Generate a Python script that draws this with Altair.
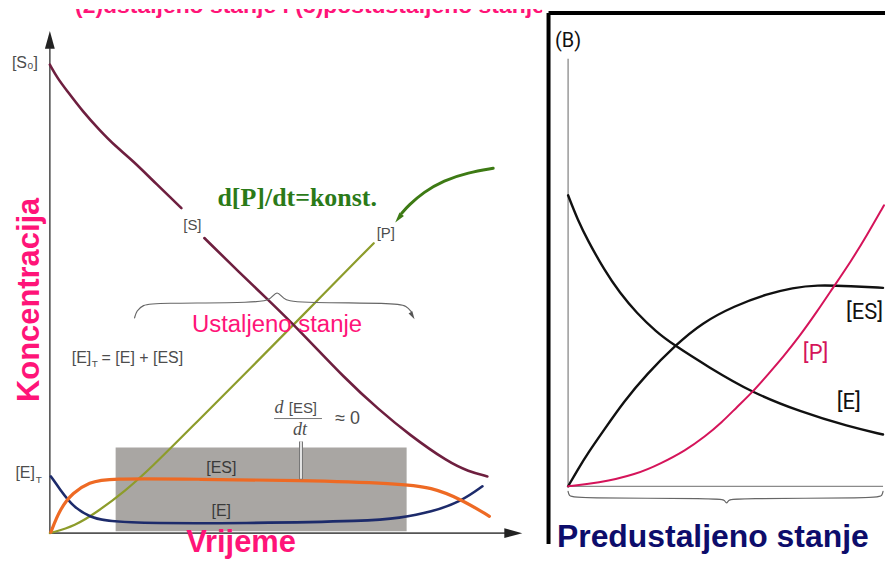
import altair as alt
import pandas as pd

# ---------------- Left panel: steady-state time course ----------------
# time (0..100 = end of curves), concentration (0..100 = [S0])
S_t = [0.0, 1.82, 3.86, 7.5, 11.36, 15.0, 18.86, 24.32, 30.0,
       35.23, 43.18, 50.0, 56.82, 67.5, 75.0, 81.82, 90.91, 95.45, 99.77]
S_c = [100.0, 97.0, 94.5, 90.0, 86.0, 82.55, 79.6, 74.5, 69.4,
       63.0, 55.7, 49.6, 43.4, 32.8, 26.4, 21.1, 15.1, 13.2, 12.1]
S_seg = [0] * 9 + [1] * 10

P_t = [0.0, 5.68, 11.36, 17.05, 22.73, 34.09, 45.45, 56.82, 73.86]
P_c = [0.0, 1.49, 4.89, 8.94, 13.6, 24.3, 34.9, 45.7, 61.9]

ES_t = [0.23, 2.27, 5.23, 9.09, 12.95, 34.09, 56.82, 79.55, 87.05, 93.86, 100.23]
ES_c = [0.21, 5.1, 8.7, 10.85, 11.7, 11.5, 11.3, 10.6, 9.8, 7.2, 3.6]

E_t = [0.23, 2.27, 5.23, 9.09, 14.32, 45.45, 72.73, 79.55, 87.05, 93.86, 98.64]
E_c = [12.1, 9.4, 5.7, 3.4, 2.1, 2.1, 2.6, 3.2, 4.5, 6.8, 10.0]

# steady-state window (grey box)
BOX_T = [15.0, 81.36]
BOX_C = [0.43, 18.3]

# brace over "Ustaljeno stanje"
BR_t = [19.32, 19.77, 21.14, 23.86, 48.18, 50.45, 51.82, 53.18, 55.45, 79.09, 81.36, 82.5]
BR_c = [45.96, 47.45, 48.72, 49.15, 49.15, 50.0, 51.9, 50.0, 49.15, 49.15, 48.5, 47.2]

# green curved arrow pointing at [P]
GA_t = [101.1, 95.45, 89.77, 85.23, 81.82, 80.23]
GA_c = [77.9, 77.0, 75.3, 72.8, 70.0, 68.3]

# ---------------- Right panel: pre-steady state ----------------
RE_t = [0.0, 3.11, 6.21, 11.49, 16.46, 21.74, 27.95, 33.54, 44.41, 58.39, 73.6, 89.13, 100.0]
RE_c = [100.0, 91.4, 84.6, 74.3, 66.4, 59.6, 53.1, 48.6, 41.1, 32.2, 25.7, 20.5, 17.8]

RES_t = [0.0, 3.11, 6.21, 11.49, 17.7, 24.84, 34.16, 42.55, 52.8, 63.04, 71.43, 78.57, 90.06, 100.0]
RES_c = [0.0, 5.82, 11.3, 19.5, 29.1, 38.4, 48.6, 56.2, 62.0, 66.1, 68.2, 69.2, 68.8, 68.2]

RP_t = [0.0, 9.32, 21.74, 29.5, 37.27, 43.48, 48.76, 53.73, 58.39, 63.66, 68.32,
        73.6, 79.19, 83.85, 90.06, 94.72, 100.31]
RP_c = [0.0, 1.03, 4.11, 7.88, 12.33, 17.12, 21.92, 27.4, 32.19, 38.7, 44.52,
        51.71, 60.27, 67.81, 77.74, 85.96, 96.58]

RB_t = [0.0, 0.3, 1.55, 48.8, 49.7, 50.3, 50.9, 51.9, 98.45, 99.7, 100.0]
RB_c = [-1.71, -3.2, -4.11, -4.11, -4.79, -6.16, -4.79, -4.11, -4.11, -3.2, -1.71]

# ---------------- colours / fonts ----------------
PINK = "#ff1478"
GREEN = "#2b7a18"
LABEL = "#4d4d4d"
SANS = "Liberation Sans, Arial, sans-serif"
SERIF = "Liberation Serif, Times New Roman, serif"
NARROW = "Liberation Sans Narrow, Roboto, sans-serif"
ARROW = "M0,-1L0.55,1L-0.55,1Z"

W_L, W_R, H = 536, 344, 554
LX = alt.Scale(domain=[-9.545, 112.27], nice=False, zero=False)
LY = alt.Scale(domain=[-5.957, 111.91], nice=False, zero=False)
RX = alt.Scale(domain=[-8.228, 100.63], nice=False, zero=False)
RY = alt.Scale(domain=[-25.68, 164.04], nice=False, zero=False)


def X(sc, f="t"):
    return alt.X(f"{f}:Q", scale=sc, axis=None)


def Y(sc, f="c"):
    return alt.Y(f"{f}:Q", scale=sc, axis=None)


def curve(t, c, color, width, sx, sy, seg=None, interp="basis"):
    df = pd.DataFrame({"t": t, "c": c, "seg": seg if seg else [0] * len(t)})
    return alt.Chart(df).mark_line(
        color=color, strokeWidth=width, interpolate=interp, strokeCap="round"
    ).encode(x=X(sx), y=Y(sy), detail="seg:N")


def label(t, c, text, sx, sy, **mk):
    df = pd.DataFrame({"t": [t], "c": [c], "label": [text]})
    return alt.Chart(df).mark_text(**mk).encode(x=X(sx), y=Y(sy), text="label:N")


def seg_rule(t1, c1, t2, c2, sx, sy, **mk):
    df = pd.DataFrame({"t": [t1], "c": [c1], "t2": [t2], "c2": [c2]})
    return alt.Chart(df).mark_rule(**mk).encode(
        x=X(sx), y=Y(sy), x2="t2:Q", y2="c2:Q"
    )


def head(t, c, angle, size, color, sx, sy):
    df = pd.DataFrame({"t": [t], "c": [c]})
    return alt.Chart(df).mark_point(
        shape=ARROW, filled=True, size=size, angle=angle, color=color,
        opacity=1, strokeWidth=0
    ).encode(x=X(sx), y=Y(sy))


# ---------------- left panel layers ----------------
box = alt.Chart(pd.DataFrame({"t": [BOX_T[0]], "t2": [BOX_T[1]],
                              "c": [BOX_C[0]], "c2": [BOX_C[1]]})).mark_rect(
    color="#a9a6a3", opacity=1
).encode(x=X(LX), x2="t2:Q", y=Y(LY), y2="c2:Q")

left_layers = [
    label(59.3, 111.06, "(2)ustaljeno stanje i (3)postustaljeno stanje", LX, LY,
          font=SANS, fontSize=23, fontWeight="bold", color=PINK,
          baseline="alphabetic", clip=True),
    box,
    # axes
    seg_rule(0, 0, 0, 103.5, LX, LY, color="#555555", strokeWidth=1.6),
    seg_rule(0, 0, 104.0, 0, LX, LY, color="#555555", strokeWidth=1.6),
    head(0, 105.3, 0, 324, "#222222", LX, LY),
    head(105.68, 0, 90, 324, "#222222", LX, LY),
    # curves
    curve(P_t, P_c, "#8d9c2b", 2.2, LX, LY),
    curve(S_t, S_c, "#6e1f3f", 2.6, LX, LY, seg=S_seg),
    curve(E_t, E_c, "#1d2b6b", 2.6, LX, LY),
    curve(ES_t, ES_c, "#ee6a24", 3.2, LX, LY),
    # d[ES]/dt marker
    seg_rule(57.27, 11.49, 57.27, 19.57, LX, LY, color="#777777", strokeWidth=4),
    seg_rule(57.27, 11.6, 57.27, 19.57, LX, LY, color="#ffffff", strokeWidth=1.6),
    label(52.27, 26.8, "d", LX, LY, font=SERIF, fontStyle="italic", fontSize=18,
          color=LABEL, baseline="middle"),
    label(57.7, 26.8, "[ES]", LX, LY, font=SANS, fontSize=15, color=LABEL,
          baseline="middle"),
    seg_rule(51.14, 24.47, 62.05, 24.47, LX, LY, color="#777777", strokeWidth=1),
    label(57.05, 22.0, "dt", LX, LY, font=SERIF, fontStyle="italic", fontSize=18,
          color=LABEL, baseline="middle"),
    label(67.9, 24.3, "\u2248 0", LX, LY, font=SANS, fontSize=18, color=LABEL,
          baseline="middle"),
    # brace + steady state label
    curve(BR_t, BR_c, "#666666", 1.2, LX, LY),
    head(82.7, 46.4, 149, 64, "#555555", LX, LY),
    label(51.8, 44.5, "Ustaljeno stanje", LX, LY, font=SANS, fontSize=24,
          color=PINK, baseline="middle"),
    # green annotation
    curve(GA_t, GA_c, "#3d7a14", 3, LX, LY),
    head(79.5, 67.2, 218, 110, "#3d7a14", LX, LY),
    label(56.4, 71.5, "d[P]/dt=konst.", LX, LY, font=SERIF, fontSize=26,
          fontWeight="bold", color=GREEN, baseline="middle"),
    # curve labels
    label(-5.68, 100.4, "[S\u2080]", LX, LY, font=SANS, fontSize=16, color=LABEL,
          baseline="middle"),
    label(32.5, 65.7, "[S]", LX, LY, font=SANS, fontSize=15, color=LABEL,
          baseline="middle"),
    label(76.6, 64.0, "[P]", LX, LY, font=SANS, fontSize=15, color=LABEL,
          baseline="middle"),
    label(39.1, 13.8, "[ES]", LX, LY, font=SANS, fontSize=16, color="#3a3a3a",
          baseline="middle"),
    label(39.1, 4.7, "[E]", LX, LY, font=SANS, fontSize=16, color="#3a3a3a",
          baseline="middle"),
    label(-3.4, 12.77, "[E]", LX, LY, font=SANS, fontSize=16, color=LABEL,
          baseline="middle", align="right"),
    label(-3.2, 11.3, "T", LX, LY, font=SANS, fontSize=10, color=LABEL,
          baseline="middle", align="left"),
    label(5.0, 37.4, "[E]", LX, LY, font=SANS, fontSize=16, color=LABEL,
          baseline="middle", align="left"),
    label(9.55, 36.2, "T", LX, LY, font=SANS, fontSize=10, color=LABEL,
          baseline="middle", align="left"),
    label(11.8, 37.4, "= [E] + [ES]", LX, LY, font=SANS, fontSize=16,
          color=LABEL, baseline="middle", align="left"),
    # axis titles
    label(-4.55, 49.8, "Koncentracija", LX, LY, font=SANS, fontSize=31,
          fontWeight="bold", color=PINK, baseline="middle", angle=270),
    label(43.6, -2.1, "Vrijeme", LX, LY, font=SANS, fontSize=31,
          fontWeight="bold", color=PINK, baseline="middle"),
]

# ---------------- right panel layers ----------------
right_layers = [
    seg_rule(-6.21, -19.86, -6.21, 162.67, RX, RY, color="#000000", strokeWidth=4),
    seg_rule(-6.21, 162.67, 100.63, 162.67, RX, RY, color="#000000", strokeWidth=4),
    seg_rule(0, 0, 0, 146.9, RX, RY, color="#8a8a8a", strokeWidth=1.3),
    seg_rule(0, 0, 100, 0, RX, RY, color="#8a8a8a", strokeWidth=1.3),
    curve(RB_t, RB_c, "#666666", 1.2, RX, RY),
    curve(RE_t, RE_c, "#111111", 2.4, RX, RY),
    curve(RES_t, RES_c, "#111111", 2.4, RX, RY),
    curve(RP_t, RP_c, "#d5145a", 2.0, RX, RY),
    label(0, 153.1, "(B)", RX, RY, font=NARROW, fontSize=20, color="#111111",
          baseline="middle"),
    label(94.1, 59.9, "[ES]", RX, RY, font=NARROW, fontSize=22, color="#111111",
          baseline="middle"),
    label(78.57, 45.9, "[P]", RX, RY, font=NARROW, fontSize=22, color="#d5145a",
          baseline="middle"),
    label(89.13, 28.8, "[E]", RX, RY, font=NARROW, fontSize=22, color="#111111",
          baseline="middle"),
    label(45.96, -17.47, "Predustaljeno stanje", RX, RY, font=SANS, fontSize=32,
          fontWeight="bold", color="#0d0d6b", baseline="middle"),
]

left = alt.layer(*left_layers).properties(width=W_L, height=H)
right = alt.layer(*right_layers).properties(width=W_R, height=H)

chart = alt.hconcat(left, right, spacing=0, bounds="flush").properties(
    padding=0
).configure_view(stroke=None)

chart.save("out.html", embed_options={"renderer": "svg", "actions": False})
